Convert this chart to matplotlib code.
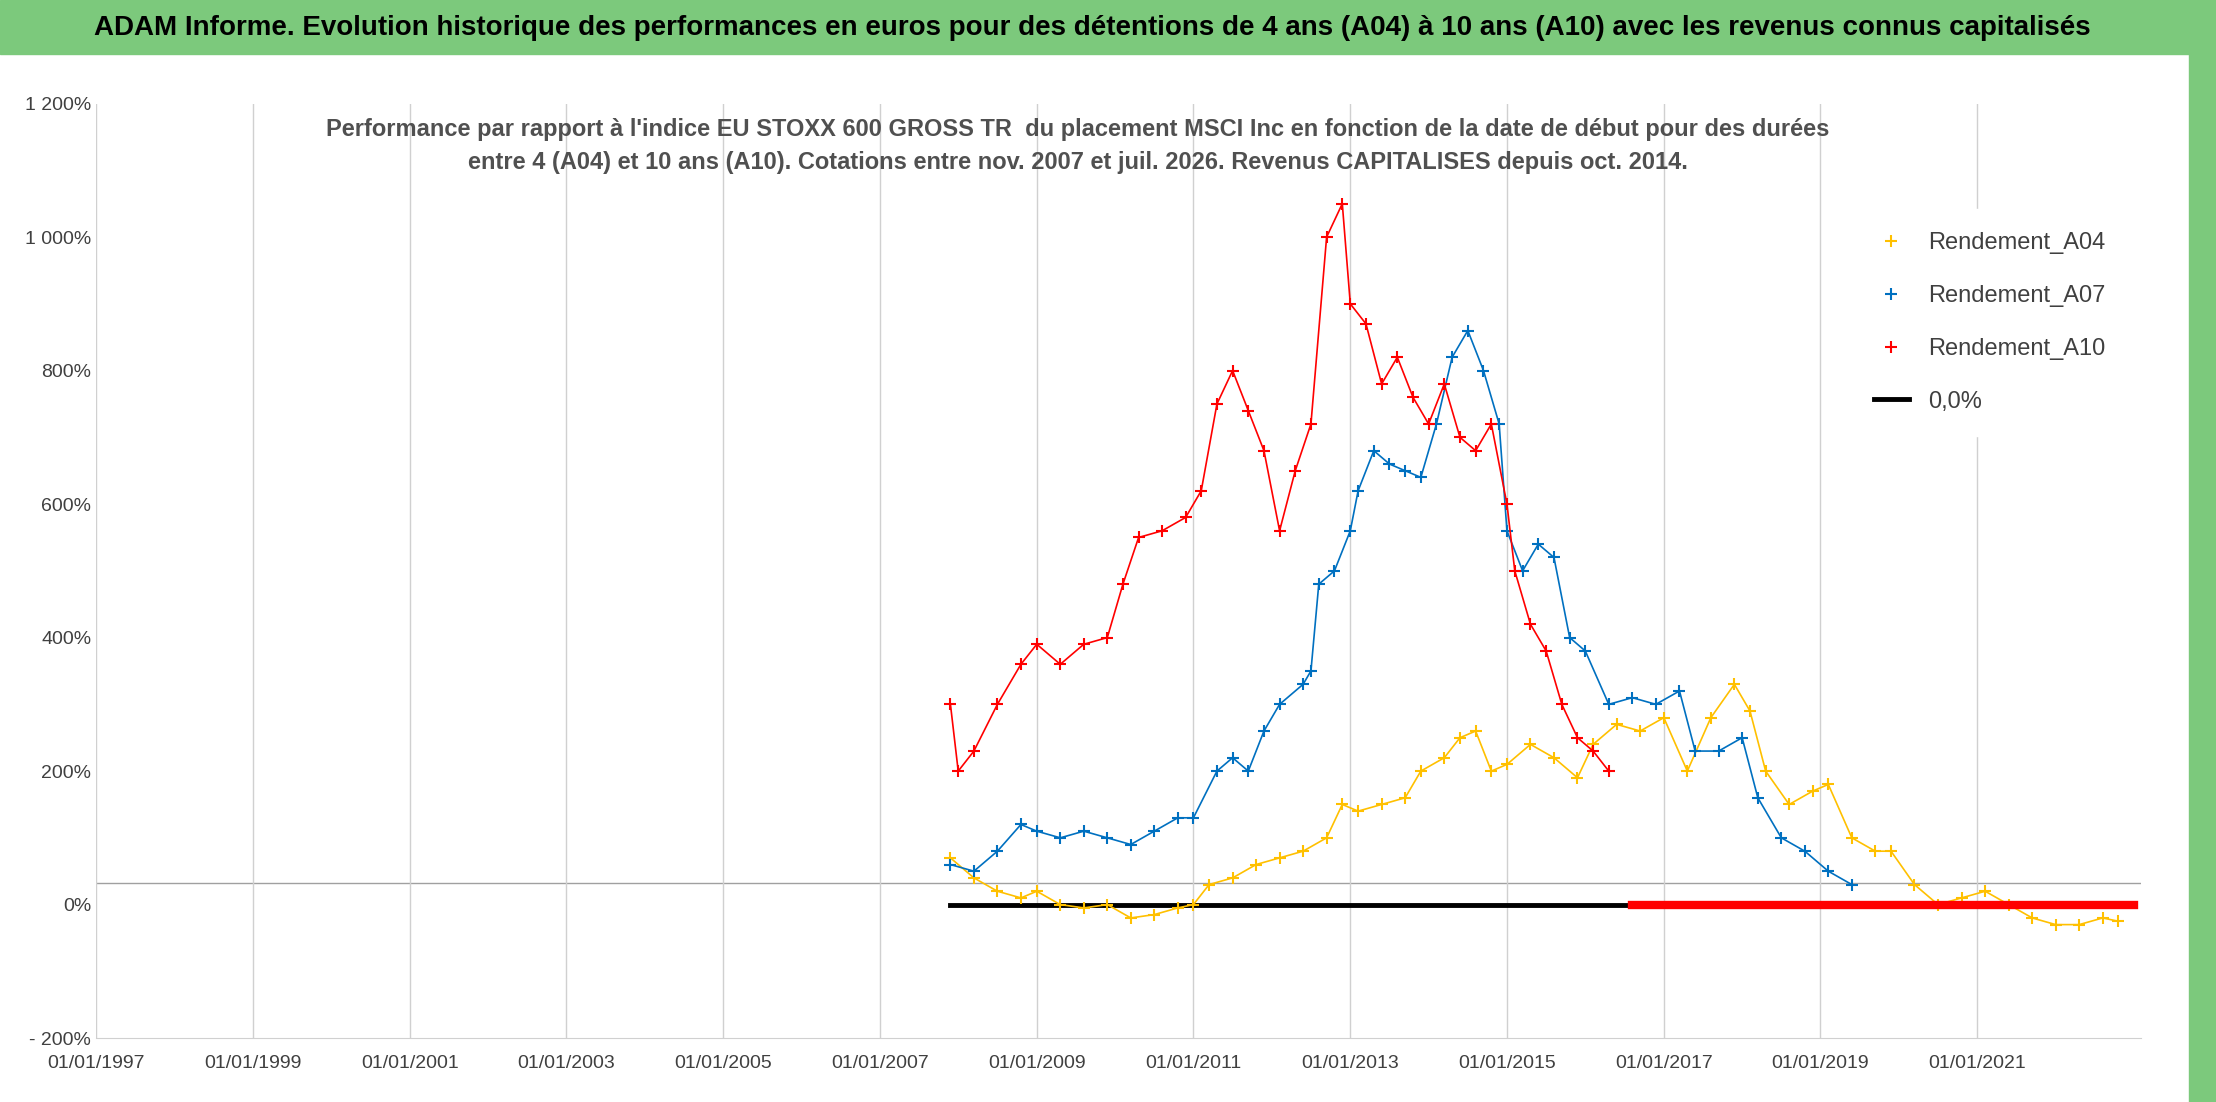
import numpy as np
import matplotlib.pyplot as plt
import matplotlib.dates as mdates
from matplotlib.lines import Line2D
from datetime import datetime, timedelta

def to_dates(years):
    out = []
    for y in years:
        base = datetime(int(y), 1, 1)
        out.append(base + timedelta(days=(y - int(y)) * 365.25))
    return out

# Rendement A10 (red)
a10_x = [2007.9, 2008.0, 2008.2, 2008.5, 2008.8, 2009.0, 2009.3, 2009.6, 2009.9, 2010.1, 2010.3,
         2010.6, 2010.9, 2011.1, 2011.3, 2011.5, 2011.7, 2011.9, 2012.1, 2012.3, 2012.5,
         2012.7, 2012.9, 2013.0, 2013.2, 2013.4, 2013.6, 2013.8, 2014.0, 2014.2, 2014.4,
         2014.6, 2014.8, 2015.0, 2015.1, 2015.3, 2015.5, 2015.7, 2015.9, 2016.1, 2016.3]
a10_y = [300, 200, 230, 300, 360, 390, 360, 390, 400, 480, 550,
         560, 580, 620, 750, 800, 740, 680, 560, 650, 720,
         1000, 1050, 900, 870, 780, 820, 760, 720, 780, 700,
         680, 720, 600, 500, 420, 380, 300, 250, 230, 200]

# Rendement A07 (blue)
a07_x = [2007.9, 2008.2, 2008.5, 2008.8, 2009.0, 2009.3, 2009.6, 2009.9, 2010.2, 2010.5,
         2010.8, 2011.0, 2011.3, 2011.5, 2011.7, 2011.9, 2012.1, 2012.4, 2012.5, 2012.6,
         2012.8, 2013.0, 2013.1, 2013.3, 2013.5, 2013.7, 2013.9, 2014.1, 2014.3, 2014.5,
         2014.7, 2014.9, 2015.0, 2015.2, 2015.4, 2015.6, 2015.8, 2016.0, 2016.3, 2016.6,
         2016.9, 2017.2, 2017.4, 2017.7, 2018.0, 2018.2, 2018.5, 2018.8, 2019.1, 2019.4]
a07_y = [60, 50, 80, 120, 110, 100, 110, 100, 90, 110,
         130, 130, 200, 220, 200, 260, 300, 330, 350, 480,
         500, 560, 620, 680, 660, 650, 640, 720, 820, 860,
         800, 720, 560, 500, 540, 520, 400, 380, 300, 310,
         300, 320, 230, 230, 250, 160, 100, 80, 50, 30]

# Rendement A04 (yellow)
a04_x = [2007.9, 2008.2, 2008.5, 2008.8, 2009.0, 2009.3, 2009.6, 2009.9, 2010.2, 2010.5,
         2010.8, 2011.0, 2011.2, 2011.5, 2011.8, 2012.1, 2012.4, 2012.7, 2012.9, 2013.1,
         2013.4, 2013.7, 2013.9, 2014.2, 2014.4, 2014.6, 2014.8, 2015.0, 2015.3, 2015.6,
         2015.9, 2016.1, 2016.4, 2016.7, 2017.0, 2017.3, 2017.6, 2017.9, 2018.1, 2018.3,
         2018.6, 2018.9, 2019.1, 2019.4, 2019.7, 2019.9, 2020.2, 2020.5, 2020.8, 2021.1,
         2021.4, 2021.7, 2022.0, 2022.3, 2022.6, 2022.8]
a04_y = [70, 40, 20, 10, 20, 0, -5, 0, -20, -15,
         -5, 0, 30, 40, 60, 70, 80, 100, 150, 140,
         150, 160, 200, 220, 250, 260, 200, 210, 240, 220,
         190, 240, 270, 260, 280, 200, 280, 330, 290, 200,
         150, 170, 180, 100, 80, 80, 30, 0, 10, 20,
         0, -20, -30, -30, -20, -25]

zero_black_x = [2007.9, 2023.0]
zero_red_x = [2016.6, 2023.0]
tick_years = list(range(1997, 2023, 2))

fig = plt.figure(figsize=(22.16, 11.02), dpi=100)
plt.rcParams['font.family'] = ['Liberation Sans', 'DejaVu Sans']

# green title bar
fig.patches.append(plt.Rectangle((0, 0.951), 1, 0.049, transform=fig.transFigure,
                                 color='#7cc97c', zorder=0))
fig.patches.append(plt.Rectangle((0.988, 0), 0.012, 1, transform=fig.transFigure,
                                 color='#7cc97c', zorder=0))
fig.text(0.493, 0.975, "ADAM Informe. Evolution historique des performances en euros pour des détentions de 4 ans (A04) à 10 ans (A10) avec les revenus connus capitalisés",
         ha='center', va='center', fontsize=20, fontweight='bold')

ax = fig.add_axes([0.0434, 0.058, 0.9226, 0.848])

ax.plot(to_dates(zero_black_x), [0, 0], color='black', lw=3.5, zorder=2)
ax.plot(to_dates(a04_x), a04_y, color='#ffc000', lw=1.2, marker='+', ms=8, mew=1.5, zorder=3)
ax.plot(to_dates(a07_x), a07_y, color='#0070c0', lw=1.2, marker='+', ms=8, mew=1.5, zorder=4)
ax.plot(to_dates(a10_x), a10_y, color='#ff0000', lw=1.2, marker='+', ms=8, mew=1.5, zorder=5)
ax.plot(to_dates(zero_red_x), [0, 0], color='#ff0000', lw=6, zorder=6)

ax.axhline(32, color='#a0a0a0', lw=1, zorder=1)

ax.set_xlim(datetime(1997, 1, 1), datetime(2023, 2, 1))
ax.set_ylim(-200, 1200)
ax.set_xticks([datetime(y, 1, 1) for y in tick_years])
ax.xaxis.set_major_formatter(mdates.DateFormatter('%d/%m/%Y'))
ax.set_yticks(range(-200, 1201, 200))
ax.set_yticklabels(['- 200%', '0%', '200%', '400%', '600%', '800%', '1 000%', '1 200%'])
ax.tick_params(labelsize=14, length=0, colors='#404040')
ax.tick_params(axis='x', pad=12)
ax.grid(axis='x', color='#d0d0d0', lw=1)
for s in ['top', 'right', 'left']:
    ax.spines[s].set_visible(False)
ax.spines['bottom'].set_color('#d0d0d0')

ax.text(0.48, 0.985, "Performance par rapport à l'indice EU STOXX 600 GROSS TR  du placement MSCI Inc en fonction de la date de début pour des durées\nentre 4 (A04) et 10 ans (A10). Cotations entre nov. 2007 et juil. 2026. Revenus CAPITALISES depuis oct. 2014.",
        transform=ax.transAxes, ha='center', va='top', fontsize=17, fontweight='bold',
        color='#505050', linespacing=1.6)

handles = [Line2D([], [], ls='none', marker='+', ms=8, mew=1.5, color=c)
           for c in ['#ffc000', '#0070c0', '#ff0000']]
handles.append(Line2D([], [], color='black', lw=3.5))
leg = ax.legend(handles, ['Rendement_A04', 'Rendement_A07', 'Rendement_A10', '0,0%'],
                loc='upper right', bbox_to_anchor=(1.0, 0.9), fontsize=17, frameon=True,
                framealpha=1, edgecolor='white', labelspacing=1.3, handlelength=1.5, borderpad=1)
for t in leg.get_texts():
    t.set_color('#404040')

fig.savefig('out.png', dpi=100)
